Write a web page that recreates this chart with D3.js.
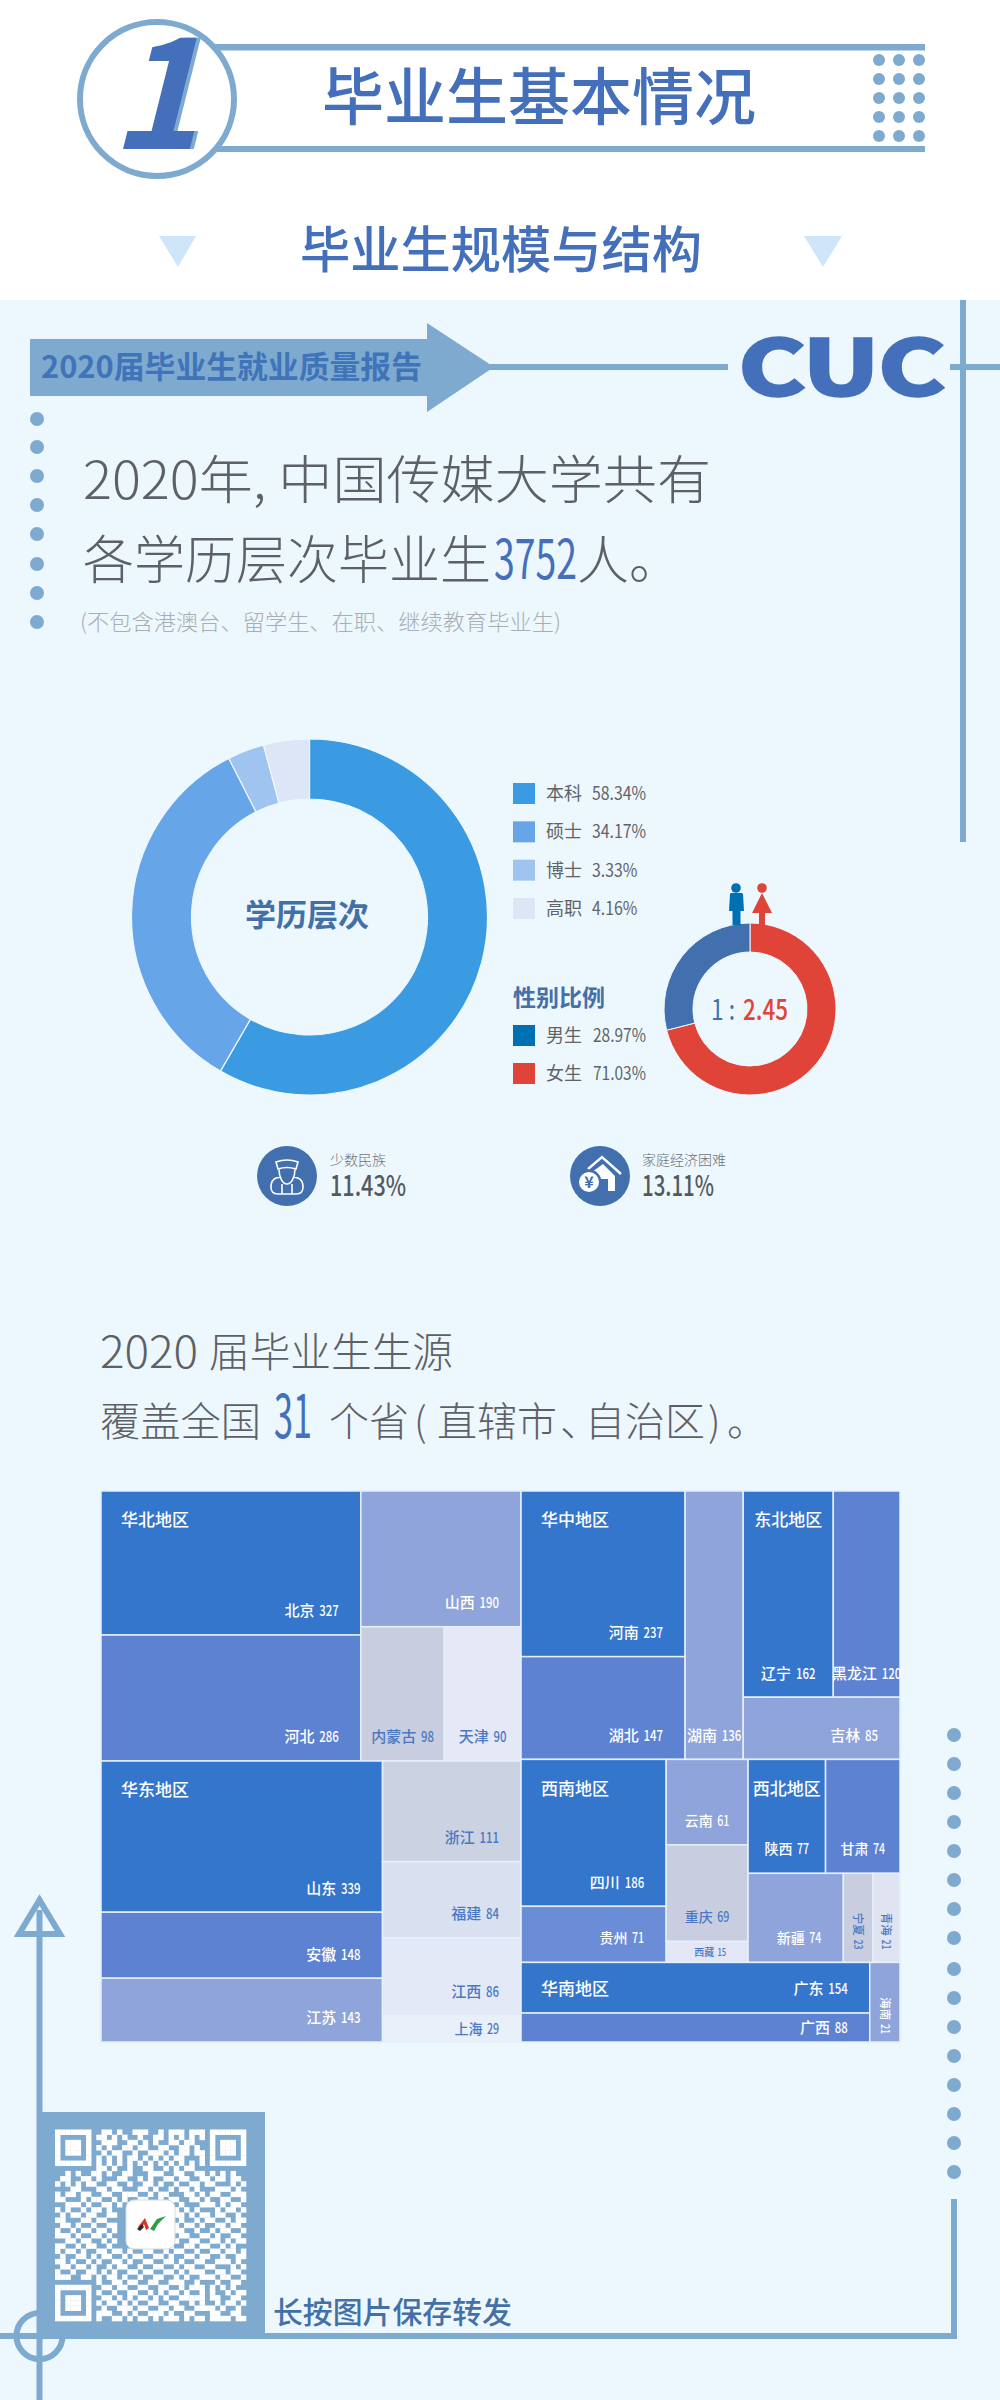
<!DOCTYPE html>
<html lang="zh">
<head>
<meta charset="utf-8">
<script src="https://d3js.org/d3.v7.min.js"></script>
<style>
html,body{margin:0;padding:0;background:#fff}
svg{display:block}
text{font-family:"Noto Sans CJK SC","Noto Sans",sans-serif}
</style>
</head>
<body>
<svg id="c" width="1000" height="2400" viewBox="0 0 1000 2400"></svg>
<script>
// ---------- data ----------
const eduLabels = ["本科","硕士","博士","高职"];
const eduValues = [58.34,34.17,3.33,4.16];
const genderLabels = ["男生","女生"];
const genderValues = [28.97,71.03];
const ratioLeft = "1 :";
const ratioRight = "2.45";
const minorityLabel = "少数民族";
const minorityValue = 11.43;
const hardshipLabel = "家庭经济困难";
const hardshipValue = 13.11;
const graduateTotal = 3752;
const provinceCount = 31;

const northNames = ["北京","河北","山西","内蒙古","天津"];
const northValues = [327,286,190,98,90];
const eastNames = ["山东","安徽","江苏","浙江","福建","江西","上海"];
const eastValues = [339,148,143,111,84,86,29];
const centralNames = ["河南","湖北","湖南"];
const centralValues = [237,147,136];
const northeastNames = ["辽宁","黑龙江","吉林"];
const northeastValues = [162,120,85];
const southwestNames = ["四川","贵州","云南","重庆","西藏"];
const southwestValues = [186,71,61,69,15];
const northwestNames = ["陕西","甘肃","新疆","宁夏","青海"];
const northwestValues = [77,74,74,23,21];
const southNames = ["广东","广西","海南"];
const southValues = [154,88,21];

// ---------- palette ----------
const LINE="#7faad0", BLUE="#4470bb", DEEP="#4470a8", GREY="#5d6166", BG="#edf7fe";
const shade={dark:"#3476cc",mid:"#5e82d2",mid2:"#6b8cd6",light:"#8fa4da",grey:"#c8cde0",grey2:"#cbd3e3",
  pale:"#e4e8f7",pale2:"#d9e1f1",pale3:"#e3e9f7",pale4:"#eaf0f9",pale5:"#e3e6f5",pale6:"#dfe3f2"};
const provinceShade={北京:"dark",河北:"mid",山西:"light",内蒙古:"grey",天津:"pale",
  山东:"dark",安徽:"mid",江苏:"light",浙江:"grey2",福建:"pale2",江西:"pale3",上海:"pale4",
  河南:"dark",湖北:"mid",湖南:"light",辽宁:"dark",黑龙江:"mid",吉林:"light",
  四川:"dark",贵州:"mid2",云南:"light",重庆:"grey",西藏:"pale5",
  陕西:"dark",甘肃:"mid",新疆:"light",宁夏:"grey",青海:"pale6",
  广东:"dark",广西:"mid",海南:"light"};

const svg=d3.select("#c");
const NARROW='Roboto,"Noto Sans",sans-serif';
const CJK='"Noto Sans CJK SC","Noto Sans",sans-serif';

function t(txt,x,cy,size,o={}){
  const e=(o.parent||svg).append("text").text(txt)
    .attr("x",x).attr("y",cy+(o.dy===undefined?0.36:o.dy)*size)
    .attr("font-size",size).attr("fill",o.fill||GREY)
    .attr("font-family",o.family||CJK)
    .attr("font-weight",o.weight||400)
    .attr("text-anchor",o.anchor||"start");
  if(o.k) e.attr("textLength",e.node().getComputedTextLength()*o.k).attr("lengthAdjust","spacingAndGlyphs");
  if(o.w) e.attr("textLength",o.w).attr("lengthAdjust","spacingAndGlyphs");
  if(o.style) e.attr("font-style",o.style);
  if(o.stroke) e.attr("stroke",o.stroke).attr("stroke-width",o.sw||1);
  return e;
}
function band(x,y,w,h,f){return svg.append("rect").attr("x",x).attr("y",y).attr("width",w).attr("height",h).attr("fill",f||LINE);}
function poly(pts,f){return svg.append("polygon").attr("points",pts.map(p=>p.join(",")).join(" ")).attr("fill",f);}

// ---------- backgrounds ----------
band(0,0,1000,2400,"#ffffff");
band(0,300,1000,2100,BG);

// ---------- section header ----------
band(215,44,710,6.5);
band(215,146,710,6);
svg.append("ellipse").attr("cx",157).attr("cy",99).attr("rx",77).attr("ry",77)
  .attr("fill","#fff").attr("stroke",LINE).attr("stroke-width",6);
t("1",155,98,150,{family:'"Liberation Serif",serif',weight:700,style:"italic",fill:BLUE,anchor:"middle",dy:0.34})
  .style("filter","drop-shadow(4px 0 0 #7faad0)");
d3.range(3).forEach(i=>d3.range(5).forEach(j=>{
  svg.append("circle").attr("cx",879+20*i).attr("cy",60+19*j).attr("r",6).attr("fill",LINE);
}));
t("毕业生基本情况",322,98,62,{fill:BLUE,weight:500,w:434});
t("毕业生规模与结构",300,250,50,{fill:BLUE,weight:500,w:402});
poly([[159,236],[196,236],[178,267]],"#cfe5fa");
poly([[804,236],[842,236],[823,267]],"#cfe5fa");

// ---------- right rule & banner ----------
band(960,300,6,542);
band(950,364,50,6);
band(490,364,238,6);
band(30,339,397,57);
poly([[427,323],[494,367],[427,412]],LINE);
t("2020届毕业生就业质量报告",41,367,31,{fill:"#3f74b8",weight:700,w:381});
t("CUC",739,367,76,{family:'"DejaVu Sans",sans-serif',weight:700,fill:"#4470bb",stroke:"#4470bb",sw:3.5,w:206,dy:0.365});

// ---------- left dots ----------
[419,447,476,505,534,564,593,622].forEach(y=>{
  svg.append("circle").attr("cx",37).attr("cy",y).attr("r",7).attr("fill",LINE);
});

// ---------- intro text ----------
t("2020年, 中国传媒大学共有",83,480,52,{weight:300,w:628});
t("各学历层次毕业生",83,560,52,{weight:300,w:408});
t(String(graduateTotal),494,560,54,{family:NARROW,fill:BLUE,w:83});
t("人。",577,560,52,{weight:300});
t("(不包含港澳台、留学生、在职、继续教育毕业生)",80,622,22,{fill:"#a9aeb5",weight:300,w:481});

// ---------- education donut ----------
const eduColor=d3.scaleOrdinal().domain(eduLabels).range(["#3a9ae2","#65a5e8","#9fc4f0","#dce6f6"]);
const eduPie=d3.pie().sort(null).value(i=>eduValues[i]);
const eduArc=d3.arc().innerRadius(118).outerRadius(178);
svg.append("g").attr("transform","translate(309.5,917)")
  .selectAll("path").data(eduPie(d3.range(eduValues.length))).join("path")
  .attr("d",eduArc).attr("fill",d=>eduColor(eduLabels[d.data]))
  .attr("stroke",BG).attr("stroke-width",1.2);
t("学历层次",245,915,31,{fill:DEEP,weight:700,w:124});

const eduRow=d3.scalePoint().domain(eduLabels).range([793.5,908.5]);
eduLabels.forEach((l,i)=>{
  const y=eduRow(l);
  band(513,y-10.5,22,21,eduColor(l));
  t(l,546,y,18,{fill:"#606468",weight:400});
  t(eduValues[i].toFixed(2)+"%",592,y,18,{family:NARROW,fill:"#606468",k:0.88});
});

// ---------- gender ----------
t("性别比例",513,998,23,{fill:DEEP,weight:700});
const legendColor=d3.scaleOrdinal().domain(genderLabels).range(["#0070b5","#e04438"]);
const genderRow=d3.scalePoint().domain(genderLabels).range([1035.5,1073.5]);
genderLabels.forEach((l,i)=>{
  const y=genderRow(l);
  band(513,y-10.5,22,21,legendColor(l));
  t(l,546,y,18,{fill:"#606468",weight:400});
  t(genderValues[i].toFixed(2)+"%",593,y,18,{family:NARROW,fill:"#606468",k:0.86});
});
const genderColor=d3.scaleOrdinal().domain(genderLabels).range(["#4270ae","#e04438"]);
const genderPie=d3.pie().sort(null).value(i=>genderValues[i]);
const genderArc=d3.arc().innerRadius(57).outerRadius(86);
svg.append("g").attr("transform","translate(750,1009)")
  .selectAll("path").data(genderPie([1,0])).join("path")
  .attr("d",genderArc).attr("fill",d=>genderColor(genderLabels[d.data]))
  .attr("stroke",BG).attr("stroke-width",1);
t(ratioLeft,711,1009.5,28,{family:NARROW,fill:"#4270ae",w:24});
t(ratioRight,743,1009.5,28,{family:NARROW,fill:"#e04438",weight:500,w:45});

// pictograms
svg.append("circle").attr("cx",736).attr("cy",888).attr("r",4.8).attr("fill","#0070b5");
svg.append("path").attr("fill","#0070b5").attr("d","M730,894 Q730,893 732,893 L741,893 Q743,893 743,894 L744,911 L740.5,911 L740.5,925 L732.5,925 L732.5,911 L729,911 Z");
svg.append("circle").attr("cx",762).attr("cy",888).attr("r",4.8).attr("fill","#e04438");
svg.append("path").attr("fill","#e04438").attr("d","M762,893 L772,913 L765,913 L765,925 L759,925 L759,913 L752,913 Z");

// ---------- small stats ----------
svg.append("circle").attr("cx",287).attr("cy",1176).attr("r",30).attr("fill","#4270ae");
svg.append("path").attr("transform","translate(287,1176)").attr("fill","none").attr("stroke","#fff").attr("stroke-width",1.6)
  .attr("d","M-11,-14 Q0,-18 11,-14 L9,-7 Q0,-10 -9,-7 Z M-8,-7 C-8,2 -4,8 0,8 C4,8 8,2 8,-7 M-6,1 L-11,2 Q-16,4 -16,11 Q-16,18 -9,18 L9,18 Q16,18 16,11 Q16,4 11,2 L6,1 M-5,8 L-5,18 M5,8 L5,18");
svg.append("circle").attr("cx",600).attr("cy",1176).attr("r",30).attr("fill","#4270ae");
svg.append("path").attr("transform","translate(600,1176)").attr("fill","#fff")
  .attr("d","M3,-12 L15,0 L15,15 L8,15 L8,3 L1,3 L-8,-4 Z");
svg.append("path").attr("transform","translate(600,1176)").attr("fill","none").attr("stroke","#fff").attr("stroke-width",2.4)
  .attr("d","M-12,-7 L2,-19 L21,-2");
svg.append("circle").attr("cx",589).attr("cy",1182).attr("r",12.5).attr("fill","#4270ae");
svg.append("circle").attr("cx",589).attr("cy",1182).attr("r",10).attr("fill","#fff");
t("¥",589,1182,16,{fill:"#4270ae",weight:700,anchor:"middle",family:'"DejaVu Sans",sans-serif'});
t(minorityLabel,330,1160,14,{fill:"#707478",weight:300,w:56});
t(minorityValue.toFixed(2)+"%",330,1186,28,{family:NARROW,fill:"#55595e",w:76,weight:500});
t(hardshipLabel,642,1160,14,{fill:"#707478",weight:300,w:84});
t(hardshipValue.toFixed(2)+"%",642,1186,28,{family:NARROW,fill:"#55595e",w:72,weight:500});

// ---------- source heading ----------
t("2020",100,1352,44,{weight:300,w:98});
t("届毕业生生源",209,1352,41,{weight:300,w:244});
t("覆盖全国",100,1422,40,{weight:300,w:161});
t(String(provinceCount),274,1416,60,{family:NARROW,fill:BLUE,w:38});
const headTail=svg.append("text").attr("y",1422+0.36*40).attr("font-size",40).attr("font-weight",300).attr("fill",GREY);
[["个省",329],["(",414],["直辖市",437],["、",560],["自治区",585],[")",708],["。",727]].forEach(([s,x])=>{
  headTail.append("tspan").attr("x",x).text(s);
});

// ---------- treemap ----------
const leaf=(n,v,i)=>({name:n[i],value:v[i],province:true});
function regionNode(title,dir,children){return {region:title,dir,children};}
const mapData={dir:"x",share:0.5257,children:[
  {dir:"y",share:0.49,children:[
    regionNode("华北地区","x",[
      {dir:"y",children:[leaf(northNames,northValues,0),leaf(northNames,northValues,1)]},
      {dir:"y",children:[leaf(northNames,northValues,2),
        {dir:"x",children:[leaf(northNames,northValues,3),leaf(northNames,northValues,4)]}]}]),
    regionNode("华东地区","x",[
      {dir:"y",children:[0,1,2].map(i=>leaf(eastNames,eastValues,i))},
      {dir:"y",children:[3,4,5,6].map(i=>leaf(eastNames,eastValues,i))}])
  ]},
  {dir:"y",children:[
    {dir:"x",children:[
      regionNode("华中地区","x",[
        {dir:"y",children:[leaf(centralNames,centralValues,0),leaf(centralNames,centralValues,1)]},
        leaf(centralNames,centralValues,2)]),
      regionNode("东北地区","y",[
        {dir:"x",children:[leaf(northeastNames,northeastValues,0),leaf(northeastNames,northeastValues,1)]},
        leaf(northeastNames,northeastValues,2)])
    ]},
    {dir:"y",children:[
      {dir:"x",children:[
        regionNode("西南地区","x",[
          {dir:"y",children:[0,1].map(i=>leaf(southwestNames,southwestValues,i))},
          {dir:"y",children:[2,3,4].map(i=>leaf(southwestNames,southwestValues,i))}]),
        regionNode("西北地区","y",[
          {dir:"x",children:[0,1].map(i=>leaf(northwestNames,northwestValues,i))},
          {dir:"x",children:[2,3,4].map(i=>leaf(northwestNames,northwestValues,i))}])
      ]},
      regionNode("华南地区","x",[
        {dir:"y",children:[0,1].map(i=>leaf(southNames,southValues,i))},
        leaf(southNames,southValues,2)])
    ]}
  ]}
]};
function tile(node,x0,y0,x1,y1){
  const horizontal=node.data.dir==="x";
  (horizontal?d3.treemapDice:d3.treemapSlice)(node,x0,y0,x1,y1);
  if(node.data.share){
    const [a,b]=node.children;
    if(horizontal){a.x1=b.x0=x0+(x1-x0)*node.data.share;}
    else{a.y1=b.y0=y0+(y1-y0)*node.data.share;}
  }
}
const root=d3.hierarchy(mapData).sum(d=>d.province?d.value:0);
d3.treemap().tile(tile).size([799,551])(root);
const map=svg.append("g").attr("transform","translate(101,1491)");
const leaves=root.leaves();
map.selectAll("rect").data(leaves).join("rect")
  .attr("x",d=>d.x0).attr("y",d=>d.y0)
  .attr("width",d=>d.x1-d.x0).attr("height",d=>d.y1-d.y0)
  .attr("fill",d=>shade[provinceShade[d.data.name]])
  .attr("stroke","#e4f0fb").attr("stroke-width",1.5);
const lightKeys=new Set(["dark","mid","mid2","light"]);
leaves.forEach(d=>{
  const w=d.x1-d.x0,h=d.y1-d.y0,fill=lightKeys.has(provinceShade[d.data.name])?"#ffffff":"#4a78c4";
  const vertical=w<34;
  const size=h<22?10:vertical?11.5:(d.data.value<80?14:15);
  const g=map.append("g");
  const val=g.append("text").text(d.data.value).attr("fill",fill).attr("font-size",size)
    .attr("font-family",NARROW).attr("font-weight",500).attr("text-anchor","end");
  const vw=val.node().getComputedTextLength()*0.76;
  val.attr("textLength",vw).attr("lengthAdjust","spacingAndGlyphs");
  const nam=g.append("text").text(d.data.name).attr("fill",fill).attr("font-size",size)
    .attr("font-weight",500).attr("text-anchor","end").attr("x",-vw-size*0.32);
  const tw=nam.node().getComputedTextLength()+vw+size*0.32;
  val.attr("y",size*0.36); nam.attr("y",size*0.36);
  if(vertical){
    const bottom=d.data.name==="海南"?8:13;
    g.attr("transform",`translate(${(d.x0+d.x1)/2},${d.y1-bottom}) rotate(90)`);
  }else{
    const rx=d.x1-Math.min(22,(w-tw)/2);
    const cy=d.y1-Math.min(24,h/2);
    g.attr("transform",`translate(${rx},${cy})`);
  }
});
root.descendants().filter(d=>d.data.region).forEach(d=>{
  const first=d.leaves()[0];
  const pad=Math.min(20,((first.x1-first.x0)-68)/2);
  const cy=d.y0+(d.data.region==="华南地区"?26:29);
  t(d.data.region,d.x0+pad,cy,17,{fill:"#fff",weight:500,parent:map});
});

// ---------- bottom furniture ----------
[1735,1764,1793,1822,1851,1880,1909,1938,1969,1998,2027,2056,2085,2114,2143,2172].forEach(y=>{
  svg.append("circle").attr("cx",954).attr("cy",y).attr("r",7).attr("fill",LINE);
});
svg.append("circle").attr("cx",39.5).attr("cy",2336).attr("r",23).attr("fill","none").attr("stroke",LINE).attr("stroke-width",6);
band(36.5,1910,6,490);
band(0,2333,957,6);
band(951,2199,6,140);
svg.append("polygon").attr("points","39.5,1900 19,1934 60,1934").attr("fill","none").attr("stroke",LINE).attr("stroke-width",6);
band(40,2112,225,227);

// decorative QR code, read module by module from the picture
const qrRows=[
"1111111001101001110010111011101111111",
"1111111011010100100110101010101111111",
"1111111001110011010100110110001111111",
"1111111010100110110011001101001111111",
"1111111001011001001110101101101111111",
"1111111010101011010101011000101111111",
"1111111010101010101010101010101111111",
"0000000011010010011001010110000000000",
"0010100110100110001110011001101010100",
"0110011010001100101001101100110110110",
"1010101100110010011010010011011000101",
"0001100011011000110100101101000111010",
"1011011001100111001011000110101100111",
"1100010110010100110010110011010011001",
"0011101001101011001100101000111010110",
"1010010110100000000000110101000101101",
"0101101100110000000000011010110110010",
"1100011011000000000000101001011001011",
"0110100100110000000000010110100110110",
"1001011011010000000000111001001011001",
"1110100110100000000000001100110100110",
"0011011001010000000000110011001101011",
"1100101100100000000000100110110010100",
"1011010011011010011001011001001101101",
"0100110101100101100110100110110010011",
"1101001010011010011001101001100111010",
"0110110100101100100110010110011000101",
"1001001101010011011001101011100110110",
"1110011010110100100110010100111011001",
"0000000010011011001100111001000100110",
"1111111001101100110011001011101010100",
"1111111010010011001010110100101001011",
"1111111001101010110101001111101100110",
"1111111010110101001100110010100101101",
"1111111001001110110011011001111010010",
"1111111011100101001110100110001100110",
"1111111010011010110101110101101111011"];
const qrN=37;
const qx=d3.scaleBand().domain(d3.range(qrN)).range([55,246]);
const qy=d3.scaleBand().domain(d3.range(qrN)).range([2129.5,2321]);
function finderCell(r,c){
  for(const [r0,c0] of [[0,0],[0,30],[30,0]]){
    const a=r-r0,b=c-c0;
    if(a>=0&&a<7&&b>=0&&b<7){
      const ring=Math.min(a,b,6-a,6-b);
      return ring===1?0:1;
    }
  }
  return null;
}
const qrCells=[];
qrRows.forEach((row,r)=>{
  d3.range(qrN).forEach(c=>{
    const f=finderCell(r,c);
    const on=f===null?row[c]==="1":f===1;
    if(on) qrCells.push({r,c});
  });
});
svg.append("g").selectAll("rect").data(qrCells).join("rect")
  .attr("x",d=>qx(d.c)).attr("y",d=>qy(d.r))
  .attr("width",qx.bandwidth()+0.3).attr("height",qy.bandwidth()+0.3)
  .attr("fill","#fff");
svg.append("rect").attr("x",126).attr("y",2200).attr("width",49).attr("height",49).attr("rx",8)
  .attr("fill","#fff").attr("stroke","#d9d9d9").attr("stroke-width",1);
svg.append("path").attr("fill","#d9352b").attr("d","M138,2227 L145,2218 L149,2228 L146,2230 L144,2224 L141,2229 Z");
svg.append("path").attr("fill","#2e9e44").attr("d","M150,2229 L157,2219 L166,2216 L158,2224 L154,2231 Z");
svg.append("path").attr("fill","#2b2b2b").attr("d","M137,2229 L142,2224 L144,2227 L140,2231 Z");
t("长按图片保存转发",273,2312,30,{fill:DEEP,weight:500,w:239});
</script>
</body>
</html>
